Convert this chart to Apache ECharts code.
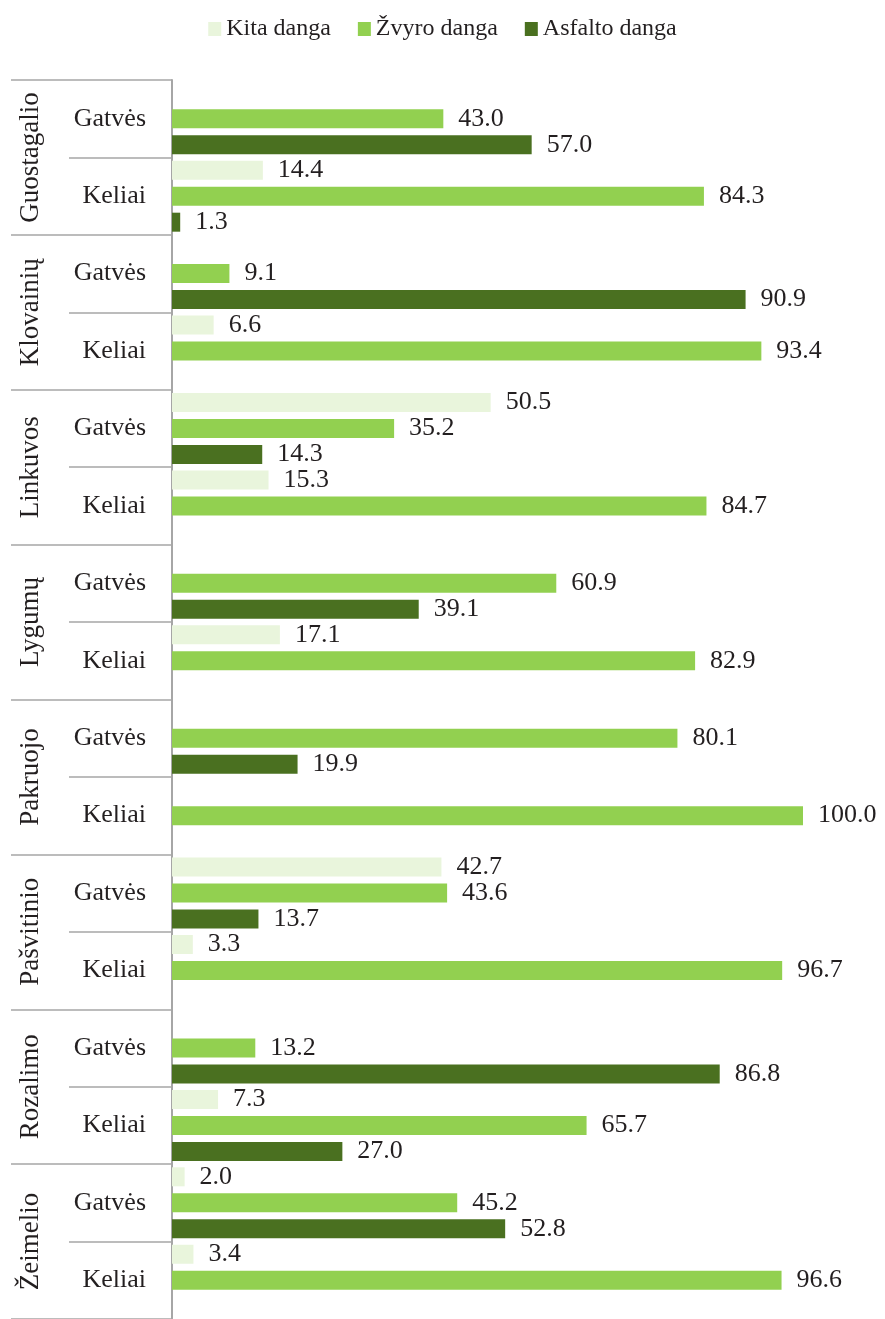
<!DOCTYPE html>
<html><head><meta charset="utf-8">
<script src="https://cdn.jsdelivr.net/npm/echarts@6/dist/echarts.min.js"></script>
<style>html,body{margin:0;padding:0;background:#fff}#c{width:885px;height:1319px}</style>
</head><body><div id="c"></div>
<script>
const groups = ['Guostagalio','Klovainių','Linkuvos','Lygumų','Pakruojo','Pašvitinio','Rozalimo','Žeimelio'];
const subLabels = ['Gatvės','Keliai','Gatvės','Keliai','Gatvės','Keliai','Gatvės','Keliai','Gatvės','Keliai','Gatvės','Keliai','Gatvės','Keliai','Gatvės','Keliai'];
const seriesNames = ['Kita danga','Žvyro danga','Asfalto danga'];
const kita    = [null,14.4, null,6.6, 50.5,15.3, null,17.1, null,null, 42.7,3.3, null,7.3, 2.0,3.4];
const zvyro   = [43.0,84.3, 9.1,93.4, 35.2,84.7, 60.9,82.9, 80.1,100.0, 43.6,96.7, 13.2,65.7, 45.2,96.6];
const asfalto = [57.0,1.3, 90.9,null, 14.3,null, 39.1,null, 19.9,null, 13.7,null, 86.8,27.0, 52.8,null];
const colors = ['#e9f5dc','#92d050','#4a7020'];
const FONT = '"Liberation Serif", serif';
const txt = '#231f20';
const grey = '#a6a6a6';

const chart = echarts.init(document.getElementById('c'), null, {renderer:'canvas'});
function mk(name, data, color){
  return {
    name, type:'bar', data, yAxisIndex:0, barWidth:19, barGap:'37%',
    itemStyle:{color},
    label:{show:true, position:'right', distance:15, fontFamily:FONT, fontSize:26, color:txt,
      formatter:p => (p.value==null ? '' : Number(p.value).toFixed(1))}
  };
}
chart.setOption({
  animation:false,
  textStyle:{fontFamily:FONT},
  legend:{top:12, left:'center', icon:'rect', itemWidth:13, itemHeight:14, itemGap:27,
    textStyle:{fontFamily:FONT, fontSize:24, color:txt}, data:seriesNames},
  grid:{left:172, right:82, top:80, height:1245, containLabel:false},
  xAxis:{type:'value', min:0, max:100, show:false},
  yAxis:[
    {type:'category', data:subLabels, inverse:true, position:'left',
      axisLine:{show:true, lineStyle:{color:grey, width:2}},
      axisTick:{show:true, interval:0, length:103, lineStyle:{color:grey, width:1.5}},
      axisLabel:{interval:0, margin:26, fontFamily:FONT, fontSize:26, color:txt}},
    {type:'category', data:groups, inverse:true, position:'left', offset:0,
      axisLine:{show:false},
      axisTick:{show:true, interval:0, length:161, lineStyle:{color:grey, width:1.5}},
      axisLabel:{interval:0, rotate:90, margin:128, fontFamily:FONT, fontSize:27, color:txt}}
  ],
  series:[mk(seriesNames[0],kita,colors[0]), mk(seriesNames[1],zvyro,colors[1]), mk(seriesNames[2],asfalto,colors[2])]
});
</script></body></html>
